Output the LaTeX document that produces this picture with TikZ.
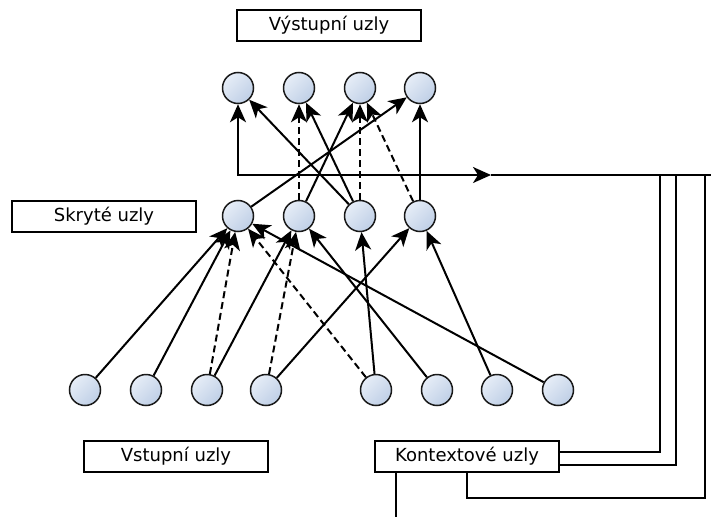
\documentclass[tikz,border=0pt]{standalone}
\usepackage{fontspec}
\setmainfont{DejaVu Sans}
\usetikzlibrary{arrows.meta}
\definecolor{nodeTop}{HTML}{E6EDF7}
\definecolor{nodeBot}{HTML}{BFCFE6}
\begin{document}
\begin{tikzpicture}[x=1pt,y=-1pt,
  neuron/.style={circle, draw=black!90, line width=1.5pt, minimum size=31pt, inner sep=0pt,
    top color=nodeTop, bottom color=nodeBot, shading angle=45},
  layerbox/.style={draw, line width=1.2pt, minimum width=184pt, minimum height=31pt, inner sep=0pt,
    font=\fontsize{18}{20}\selectfont},
  link/.style={line width=2pt, -{Stealth[length=18pt,width=16pt,inset=5pt]}},
  dlink/.style={link, dash pattern=on 7pt off 4pt},
  wire/.style={line width=2pt}]
\useasboundingbox (0,0) rectangle (711,516);

% layer captions
\node[layerbox] (outcap) at (329,25.5) {Výstupní uzly};
\node[layerbox] (hidcap) at (104,216.5) {Skryté uzly};
\node[layerbox] (incap)  at (176,456.5) {Vstupní uzly};
\node[layerbox] (ctx)    at (467,456.5) {Kontextové uzly};

% output layer
\node[neuron] (o1) at (238,88) {};
\node[neuron] (o2) at (299,88) {};
\node[neuron] (o3) at (360,88) {};
\node[neuron] (o4) at (420,88) {};

% hidden layer
\node[neuron] (h1) at (238,216) {};
\node[neuron] (h2) at (299,216) {};
\node[neuron] (h3) at (360,216) {};
\node[neuron] (h4) at (420,216) {};

% input layer
\node[neuron] (i1) at (85,390) {};
\node[neuron] (i2) at (146,390) {};
\node[neuron] (i3) at (207,390) {};
\node[neuron] (i4) at (266,390) {};
\node[neuron] (i5) at (376,390) {};
\node[neuron] (i6) at (437,390) {};
\node[neuron] (i7) at (497,390) {};
\node[neuron] (i8) at (558,390) {};

% feedback bus
\coordinate (busL) at (237,175);
\coordinate (tap) at (238,175);
\coordinate (busMid) at (491,175);
\coordinate (busR) at (711,175);
\coordinate (j1) at (660,175);
\coordinate (j2) at (676,175);
\coordinate (j3) at (705,175);

\draw[link] (busL) -- (busMid);
\draw[wire] (busMid) -- (busR);
\draw[link] (tap) -- (o1);

% context connections
\draw[wire] ([yshift=4.5pt]ctx.east) -| (j1);
\draw[wire] ([yshift=-8.5pt]ctx.east) -| (j2);
\draw[wire] (ctx.south) -- ++(0,25) -| (j3);
\draw[wire] ([xshift=-71pt]ctx.south) -- ++(0,50);

% hidden -> output
\draw[link] (h3) -- (o1);
\draw[dlink] (h2) -- (o2);
\draw[link] (h3) -- (o2);
\draw[link] (h2) -- (o3);
\draw[dlink] (h3) -- (o3);
\draw[dlink] (h4) -- (o3);
\draw[link] (h1) -- (o4);
\draw[link] (h4) -- (o4);

% input -> hidden
\draw[link] (i1) -- (h1);
\draw[link] (i2) -- (h1);
\draw[dlink] (i3) -- (h1);
\draw[dlink] (i5) -- (h1);
\draw[link] (i8) -- (h1);
\draw[link] (i3) -- (h2);
\draw[dlink] (i4) -- (h2);
\draw[link] (i6) -- (h2);
\draw[link] (i5) -- (h3);
\draw[link] (i4) -- (h4);
\draw[link] (i7) -- (h4);
\end{tikzpicture}
\end{document}
